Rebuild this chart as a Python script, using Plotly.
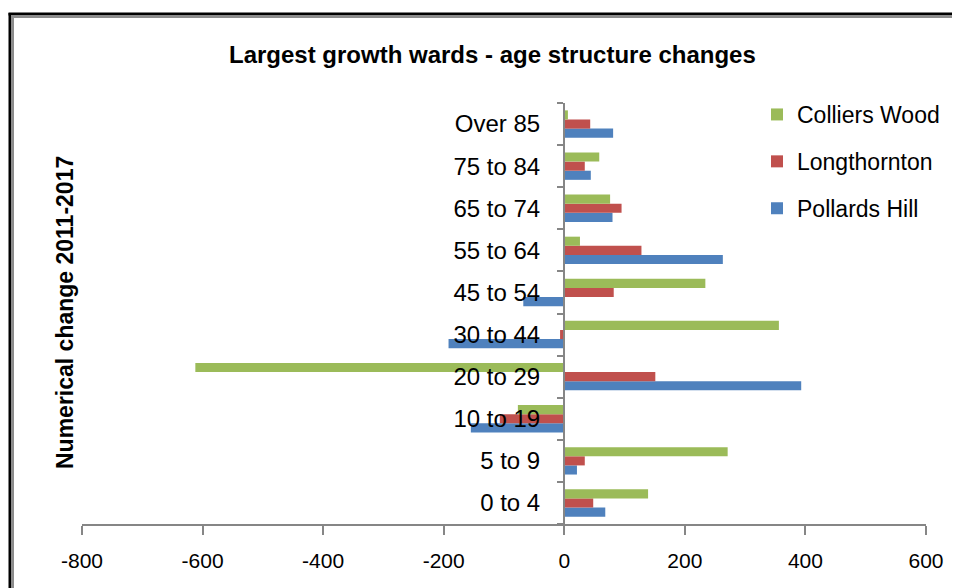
import plotly.graph_objects as go

age_groups = ["0 to 4", "5 to 9", "10 to 19", "20 to 29", "30 to 44",
              "45 to 54", "55 to 64", "65 to 74", "75 to 84", "Over 85"]
pollards_hill = [68, 21, -155, 393, -192, -68, 263, 80, 44, 81]
longthornton = [48, 34, -107, 151, -7, 82, 128, 95, 34, 43]
colliers_wood = [139, 271, -77, -612, 356, 234, 26, 76, 58, 6]
x_ticks = [-800, -600, -400, -200, 0, 200, 400, 600]
x_labels = ["-800", "-600", "-400", "-200", "0", "200", "400", "600"]

# page body has an 8px margin, so the figure is drawn 8px smaller
OFF = 8
W, H = 960 - OFF, 588 - OFF
# plot area in page pixels
L, R, T, B = 82, 926, 103, 524
def px(x): return (x - L) / (R - L)
def py(y): return (B - y) / (B - T)

fig = go.Figure()
series = [("Pollards Hill", pollards_hill, "#4F81BD", 3),
          ("Longthornton", longthornton, "#C0504D", 2),
          ("Colliers Wood", colliers_wood, "#9BBB59", 1)]
for name, vals, col, rank in series:
    fig.add_trace(go.Bar(y=age_groups, x=vals, name=name, orientation="h",
                         marker=dict(color=col, line=dict(width=0)),
                         legendgroup=name, legendrank=rank))

font = "Liberation Sans"
fig.update_layout(
    width=W, height=H,
    margin=dict(l=L - OFF, r=W - (R - OFF), t=T - OFF, b=H - (B - OFF)),
    paper_bgcolor="white", plot_bgcolor="white",
    barmode="group", bargap=0.35, bargroupgap=0,
    font=dict(family=font, size=20, color="black"),
    showlegend=True,
    legend=dict(x=px(757), y=py(93), xanchor="left", yanchor="top",
                traceorder="grouped", tracegroupgap=14,
                font=dict(size=23), bgcolor="rgba(0,0,0,0)"),
    xaxis=dict(range=[-800, 600], tickvals=x_ticks, ticktext=x_labels,
               showgrid=False, zeroline=False, showline=True, linecolor="#868686",
               linewidth=2, ticks="outside", ticklen=9, tickcolor="#868686",
               tickwidth=2, tickfont=dict(size=21), ticklabelstandoff=8,
               fixedrange=True),
    yaxis=dict(categoryorder="array", categoryarray=age_groups,
               anchor="free", position=px(564), showgrid=False, zeroline=False,
               showline=True, linecolor="#868686", linewidth=2,
               ticks="outside", ticklen=6, tickcolor="#868686", tickwidth=2,
               tickson="boundaries", ticklabelstandoff=18,
               tickfont=dict(size=24), range=[-0.5, 9.5]),
    annotations=[
        dict(text="<b>Largest growth wards - age structure changes</b>",
             x=px(492), y=py(54), xref="paper", yref="paper", showarrow=False,
             xanchor="center", yanchor="middle", font=dict(size=24)),
        dict(text="<b>Numerical change 2011-2017</b>", textangle=-90,
             x=px(65), y=py(313), xref="paper", yref="paper", showarrow=False,
             xanchor="center", yanchor="middle", font=dict(size=23)),
    ],
    shapes=[
        dict(type="line", xref="paper", yref="paper", x0=px(10), x1=px(10),
             y0=py(13), y1=py(600), line=dict(color="black", width=3)),
        dict(type="line", xref="paper", yref="paper", x0=px(8.5), x1=px(970),
             y0=py(14), y1=py(14), line=dict(color="black", width=3)),
        dict(type="line", xref="paper", yref="paper", x0=px(12.5), x1=px(12.5),
             y0=py(15.5), y1=py(600), line=dict(color="#8c8c8c", width=3)),
        dict(type="line", xref="paper", yref="paper", x0=px(11), x1=px(970),
             y0=py(16.5), y1=py(16.5), line=dict(color="#8c8c8c", width=3)),
    ],
)

fig.write_html("out.html")
